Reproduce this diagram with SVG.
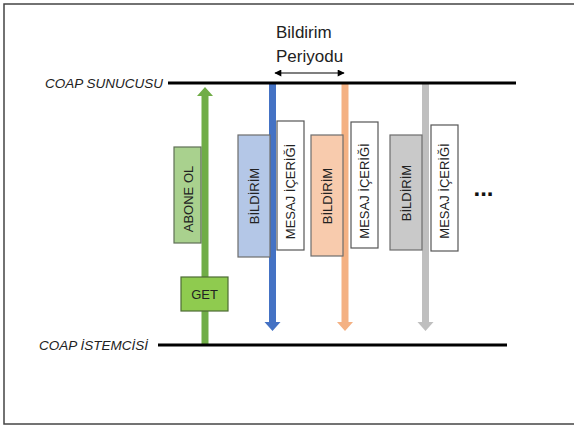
<svg xmlns="http://www.w3.org/2000/svg" width="574" height="427" viewBox="0 0 574 427">
<defs>
<style>
.lbl{font-family:"Liberation Sans",Arial,sans-serif;font-size:13px;fill:#222;text-anchor:middle;dominant-baseline:central}
.axis{font-family:"Liberation Sans",Arial,sans-serif;font-size:13.5px;font-style:italic;fill:#222;text-anchor:end}
.title{font-family:"Liberation Sans",Arial,sans-serif;font-size:17px;fill:#222}
.msg{fill:#ffffff;stroke:#555555;stroke-width:1.2}
.lane{stroke:#000;stroke-width:3;fill:none}
</style>
<marker id="ah" viewBox="0 0 10 10" refX="9" refY="5" markerWidth="8" markerHeight="7" markerUnits="userSpaceOnUse" orient="auto-start-reverse">
<path d="M0,0 L10,5 L0,10 Z" fill="#000"/>
</marker>
</defs>
<rect x="4" y="4" width="580" height="420" fill="#ffffff" stroke="#444444" stroke-width="1.5"/>

<g id="connectors">
<path d="M201.5,345 L201.5,96 L197,96 L205,87 L213,96 L208.5,96 L208.5,345 Z" fill="#70AD47"/>
<path d="M269,83 L276,83 L276,322 L280.5,322 L272.5,331 L264.5,322 L269,322 Z" fill="#4472C4"/>
<path d="M341.5,83 L348.5,83 L348.5,322 L353,322 L345,331 L337,322 L341.5,322 Z" fill="#F4B183"/>
<path d="M422,84 L429,84 L429,322 L433.5,322 L425.5,331 L417.5,322 L422,322 Z" fill="#BFBFBF"/>
<line x1="275" y1="73" x2="344" y2="73" stroke="#000" stroke-width="1.2" marker-start="url(#ah)" marker-end="url(#ah)"/>
</g>

<g id="server">
<line class="lane" x1="168" y1="83" x2="516" y2="83"/>
<text class="axis" x="163" y="88">COAP SUNUCUSU</text>
</g>
<g id="client">
<line class="lane" x1="158" y1="345" x2="507" y2="345"/>
<text class="axis" x="148" y="350">COAP İSTEMCİSİ</text>
</g>

<g id="period">
<text class="title" x="276" y="38">Bildirim</text>
<text class="title" x="276" y="62">Periyodu</text>
</g>

<g id="abone">
<rect x="174" y="147" width="27" height="96" fill="#A9D18E" stroke="#5f6f55" stroke-width="1.2"/>
<text class="lbl" transform="translate(188,199) rotate(-90)">ABONE OL</text>
</g>
<g id="get">
<rect x="181" y="277" width="47" height="34" fill="#8FCB4F" stroke="#4d6b35" stroke-width="1.2"/>
<text class="lbl" x="204.5" y="294">GET</text>
</g>

<g id="bildirim1">
<rect x="238" y="135" width="32" height="122" fill="#B4C7E7" stroke="#6d6d6d" stroke-width="1.2"/>
<text class="lbl" transform="translate(254,196) rotate(-90)">BİLDİRİM</text>
</g>
<g id="mesaj1">
<rect class="msg" x="277" y="121" width="27" height="129"/>
<text class="lbl" transform="translate(290.5,191.5) rotate(-90)">MESAJ İÇERİĞİ</text>
</g>

<g id="bildirim2">
<rect x="311" y="135" width="32" height="121" fill="#F8CBAD" stroke="#6d6d6d" stroke-width="1.2"/>
<text class="lbl" transform="translate(327,196) rotate(-90)">BİLDİRİM</text>
</g>
<g id="mesaj2">
<rect class="msg" x="351" y="122" width="27" height="126"/>
<text class="lbl" transform="translate(364.5,191) rotate(-90)">MESAJ İÇERİĞİ</text>
</g>

<g id="bildirim3">
<rect x="390" y="135" width="32" height="115" fill="#C9C9C9" stroke="#6d6d6d" stroke-width="1.2"/>
<text class="lbl" transform="translate(406,193) rotate(-90)">BİLDİRİM</text>
</g>
<g id="mesaj3">
<rect class="msg" x="431" y="125" width="27" height="126"/>
<text class="lbl" transform="translate(444.5,191) rotate(-90)">MESAJ İÇERİĞİ</text>
</g>

<g id="more">
<text x="483.5" y="196" font-family="Liberation Sans, Arial, sans-serif" font-size="24" font-weight="bold" fill="#111" text-anchor="middle">...</text>
</g>
</svg>
